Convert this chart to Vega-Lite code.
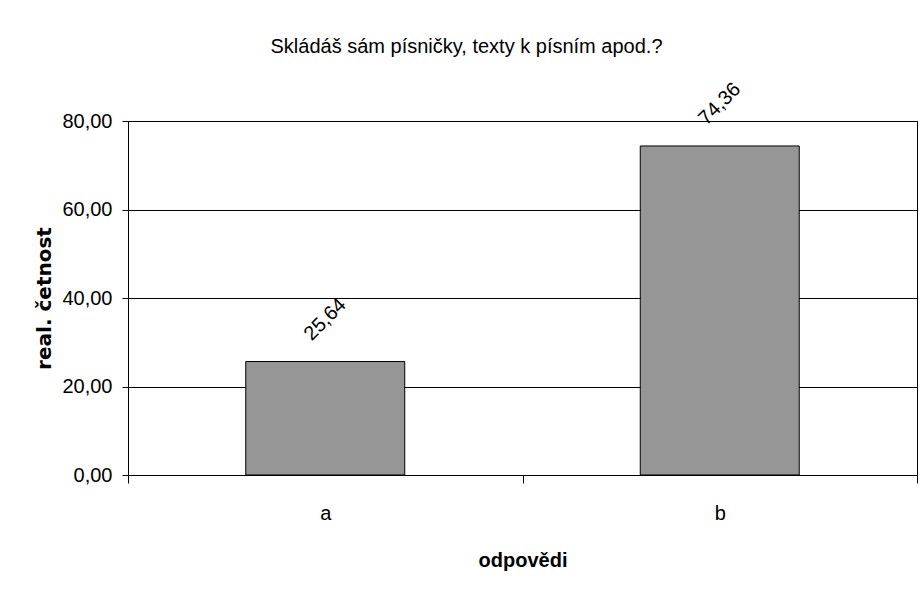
{
  "$schema": "https://vega.github.io/schema/vega-lite/v6.json",
  "width": 789,
  "height": 354,
  "autosize": {"type": "none"},
  "padding": {"left": 128, "top": 121, "right": 5, "bottom": 121},
  "background": "white",
  "title": {
    "text": "Skládáš sám písničky, texty k písním apod.?",
    "anchor": "middle",
    "frame": "group",
    "dx": -56,
    "offset": 6,
    "baseline": "alphabetic",
    "font": "Liberation Sans",
    "fontSize": 20,
    "fontWeight": "normal",
    "color": "black"
  },
  "data": {
    "values": [
      {"odpoved": "a", "cetnost": 25.64},
      {"odpoved": "b", "cetnost": 74.36}
    ]
  },
  "encoding": {
    "x": {
      "field": "odpoved",
      "type": "nominal",
      "title": "odpovědi",
      "scale": {"paddingInner": 0, "paddingOuter": 0},
      "axis": {
        "labelAngle": 0,
        "tickBand": "extent",
        "tickSize": 8,
        "labelPadding": 20,
        "titlePadding": 27,
        "titleFont": "Liberation Sans",
        "titleFontSize": 20
      }
    },
    "y": {
      "field": "cetnost",
      "type": "quantitative",
      "title": "real. četnost",
      "scale": {"domain": [0, 80], "nice": false},
      "axis": {
        "values": [0, 20, 40, 60, 80],
        "format": ".2f",
        "tickSize": 6,
        "labelPadding": 10,
        "titlePadding": 7,
        "titleFont": "DejaVu Sans",
        "titleFontSize": 20,
        "grid": true
      }
    }
  },
  "layer": [
    {
      "mark": {"type": "bar", "width": {"band": 0.403}, "fill": "#969696", "stroke": "black", "strokeWidth": 1}
    },
    {
      "mark": {
        "type": "text",
        "angle": 315,
        "align": "center",
        "baseline": "middle",
        "yOffset": -42,
        "font": "Liberation Sans",
        "fontSize": 20,
        "color": "black"
      },
      "encoding": {
        "text": {"field": "cetnost", "type": "quantitative", "format": ".2f"}
      }
    }
  ],
  "config": {
    "locale": {
      "number": {"decimal": ",", "thousands": " ", "grouping": [3], "currency": ["", " Kč"]}
    },
    "view": {"stroke": "black", "strokeWidth": 1},
    "axis": {
      "domainColor": "black",
      "tickColor": "black",
      "gridColor": "black",
      "gridOpacity": 1,
      "labelFont": "Liberation Sans",
      "labelFontSize": 20,
      "labelColor": "black",
      "titleFontWeight": "bold",
      "titleColor": "black"
    }
  }
}
